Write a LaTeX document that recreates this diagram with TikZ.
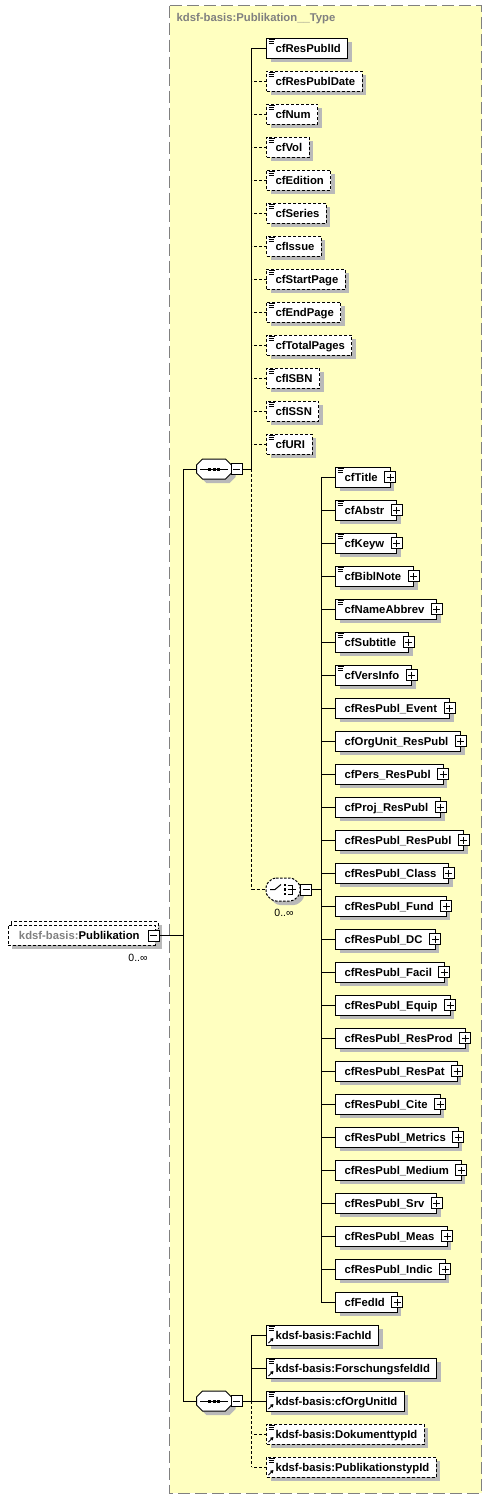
\documentclass[tikz,border=0pt]{standalone}
\usepackage{fontspec}
\setmainfont{Liberation Sans}
\usetikzlibrary{shadows,arrows.meta}
\definecolor{bgy}{RGB}{255,255,192}
\definecolor{shc}{RGB}{185,185,185}
\definecolor{ttl}{RGB}{128,128,128}
\newcommand\tx[2][7pt]{\hspace*{9pt}#2\hspace*{#1}}
\newcommand\elfont{\bfseries\fontsize{11.3}{13}\selectfont}
\tikzset{
  el/.style={draw=black, fill=white, line width=1pt, inner sep=0pt, outer sep=0pt,
    minimum height=20pt, text height=9.4pt, text depth=1.3pt, anchor=west, font=\elfont,
    general shadow={fill=shc, shadow xshift=4pt, shadow yshift=-4pt}},
  opt/.style={dash pattern=on 3pt off 2pt},
  con/.style={line width=1pt},
  ocon/.style={line width=1pt, dash pattern=on 3pt off 2pt},
  pm/.style={draw=black, fill=white, line width=1pt, minimum size=11pt, inner sep=0pt, outer sep=0pt},
  ghost/.style={inner sep=0pt, outer sep=0pt},
  occ/.style={font=\fontsize{10.5}{12}\selectfont, inner sep=0pt}
}
\newcommand\plusat[2]{\node[pm] (#1) at (#2) {};
  \draw[line width=1pt] ([xshift=2pt]#1.west) -- ([xshift=-2pt]#1.east) ([yshift=-2pt]#1.north) -- ([yshift=2pt]#1.south);}
\newcommand\minusat[2]{\node[pm] (#1) at (#2) {};
  \draw[line width=1pt] ([xshift=2pt]#1.west) -- ([xshift=-2pt]#1.east);}
\newcommand\eqic[1]{\draw[line width=0.8pt] ([xshift=2pt,yshift=-1.5pt]#1.north west) -- ++(6pt,0pt)
  ([xshift=2pt,yshift=-3.5pt]#1.north west) -- ++(5pt,0pt)
  ([xshift=2pt,yshift=-5.5pt]#1.north west) -- ++(5pt,0pt);}
\newcommand\refic[1]{\draw[line width=1pt,-{Triangle[length=3pt,width=3.5pt]}] ([xshift=2pt,yshift=2pt]#1.south west) -- ++(5pt,5pt);}
\newcommand\octpath[2]{(#1-11.5,#2-10) -- (#1+11.5,#2-10) -- (#1+17.5,#2-4) -- (#1+17.5,#2+4) -- (#1+11.5,#2+10) -- (#1-11.5,#2+10) -- (#1-17.5,#2+4) -- (#1-17.5,#2-4) -- cycle}
\newcommand\chpath[2]{(#1-10,#2-11.5) -- (#1+10,#2-11.5) -- (#1+17,#2-5) -- (#1+17,#2+5) -- (#1+10,#2+11.5) -- (#1-10,#2+11.5) -- (#1-17,#2+5) -- (#1-17,#2-5) -- cycle}
\newcommand\seqcomp[3]{% name, x, y
  \fill[shc] \octpath{#2+4}{#3+4};
  \draw[fill=white,line width=1pt] \octpath{#2}{#3};
  \node[ghost, minimum width=35pt, minimum height=20pt] (#1) at (#2,#3) {};
  \draw[line width=1pt] ([xshift=3.5pt]#1.west) -- ([xshift=-3.5pt]#1.east);
  \foreach \dx in {-4.5,0,4.5} \fill (#2+\dx-1.5,#3-1.5) rectangle ++(3,3);}

\begin{document}
\begin{tikzpicture}[x=1pt,y=-1pt]
\useasboundingbox (0,0) rectangle (492,1499);
\fill[white] (0,0) rectangle (492,1499);
% type box
\draw[ttl, line width=1pt, dash pattern=on 12pt off 5pt, fill=bgy] (169.5,5.5) rectangle (481.5,1493);
\node[anchor=west, text=ttl, font=\elfont, inner sep=0pt] (title) at (176.5,19) {kdsf-basis:Publikation\_\_Type};

\coordinate (sp0) at (183,0);
\coordinate (sp1) at (251.5,0);
\coordinate (sp2) at (321,0);
\coordinate (sp3) at (251.5,0);

% first sequence children
\foreach \t/\s [count=\i] in {cfResPublId/, cfResPublDate/opt, cfNum/opt, cfVol/opt, cfEdition/opt, cfSeries/opt, cfIssue/opt, cfStartPage/opt, cfEndPage/opt, cfTotalPages/opt, cfISBN/opt, cfISSN/opt, cfURI/opt}{
  \node[el,\s] (r\i) at (266.5,{48+33*(\i-1)}) {\tx{\t}};
  \eqic{r\i}
}
\draw[con] (r1.west) -- (r1.west -| sp1);
\foreach \i in {2,...,13} \draw[ocon] (r\i.west) -- (r\i.west -| sp1);

% choice children
\foreach \t [count=\i] in {cfTitle, cfAbstr, cfKeyw, cfBiblNote, cfNameAbbrev, cfSubtitle, cfVersInfo, cfResPubl\_Event, cfOrgUnit\_ResPubl, cfPers\_ResPubl, cfProj\_ResPubl, cfResPubl\_ResPubl, cfResPubl\_Class, cfResPubl\_Fund, cfResPubl\_DC, cfResPubl\_Facil, cfResPubl\_Equip, cfResPubl\_ResProd, cfResPubl\_ResPat, cfResPubl\_Cite, cfResPubl\_Metrics, cfResPubl\_Medium, cfResPubl\_Srv, cfResPubl\_Meas, cfResPubl\_Indic, cfFedId}{
  \node[el] (c\i) at (335.7,{477+33*(\i-1)}) {\tx[12.5pt]{\t}};
  \plusat{cp\i}{c\i.east}
  \ifnum\i<8 \eqic{c\i}\fi
  \draw[con] (c\i.west) -- (c\i.west -| sp2);
}
\draw[con] (c1.west -| sp2) -- (c26.west -| sp2);

% second sequence children
\foreach \t/\s [count=\i] in {kdsf-basis:FachId/, kdsf-basis:ForschungsfeldId/, kdsf-basis:cfOrgUnitId/, kdsf-basis:DokumenttypId/opt, kdsf-basis:PublikationstypId/opt}{
  \node[el,\s] (b\i) at (266.5,{1335+33*(\i-1)}) {\tx{\t}};
  \eqic{b\i}
  \refic{b\i}
}
\foreach \i in {1,2,3} \draw[con] (b\i.west) -- (b\i.west -| sp3);
\foreach \i in {4,5} \draw[ocon] (b\i.west) -- (b\i.west -| sp3);

% first sequence compositor
\seqcomp{s1}{214}{469}
\minusat{m1}{236.5,469}
\draw[con] (m1.east) -- (m1.east -| sp1);

% choice compositor
\fill[shc, rounded corners=3pt] \chpath{287}{893.5};
\draw[fill=white, line width=1pt, dash pattern=on 2.5pt off 1.5pt, rounded corners=3pt] \chpath{283}{889.5};
\node[ghost, minimum width=34pt, minimum height=23pt] (ch) at (283,889.5) {};
\draw[line width=1pt] (270,889.5) -- (275,889.5) -- (281,884.5);
\foreach \dy in {-4.5,0,4.5} \fill (284,889.5+\dy-1.2) rectangle ++(2.4,2.4);
\draw[line width=1pt] (287.5,885) -- (292.5,885) -- (292.5,894) -- (287.5,894) (287.5,889.5) -- (296,889.5);
\minusat{m2}{306,889.5}
\draw[con] (m2.east) -- (m2.east -| sp2);
\node[occ] (o2) at (284,913) {0..∞};

% spine of first sequence
\draw[con] (r1.west -| sp1) -- (m1.east -| sp1);
\draw[ocon] (m1.east -| sp1) -- (ch.west -| sp1);
\draw[ocon] (ch.west -| sp1) -- (ch.west);

% second sequence compositor
\seqcomp{s2}{214}{1401}
\minusat{m3}{236.5,1401}
\draw[con] (m3.east) -- (m3.east -| sp3);
\draw[con] (b1.west -| sp3) -- (m3.east -| sp3);
\draw[ocon] (m3.east -| sp3) -- (b5.west -| sp3);

% Publikation element
\fill[shc] (15,925) rectangle (162,949);
\draw[opt, fill=white, line width=1pt] (11,921.5) rectangle (158,942.5);
\node[el, opt, text width=147pt, align=left] (pub) at (8,935) {\hspace*{11pt}\textcolor{ttl}{kdsf-basis:}Publikation};
\minusat{pm1}{153.5,935.5}
\node[occ] (o1) at (138,958) {0..∞};

% main spine
\draw[con] (s1.west -| sp0) -- (s2.west -| sp0);
\draw[con] (s1.west) -- (s1.west -| sp0);
\draw[con] (s2.west) -- (s2.west -| sp0);
\draw[con] (pm1.east) -- (pm1.east -| sp0);
\end{tikzpicture}
\end{document}
